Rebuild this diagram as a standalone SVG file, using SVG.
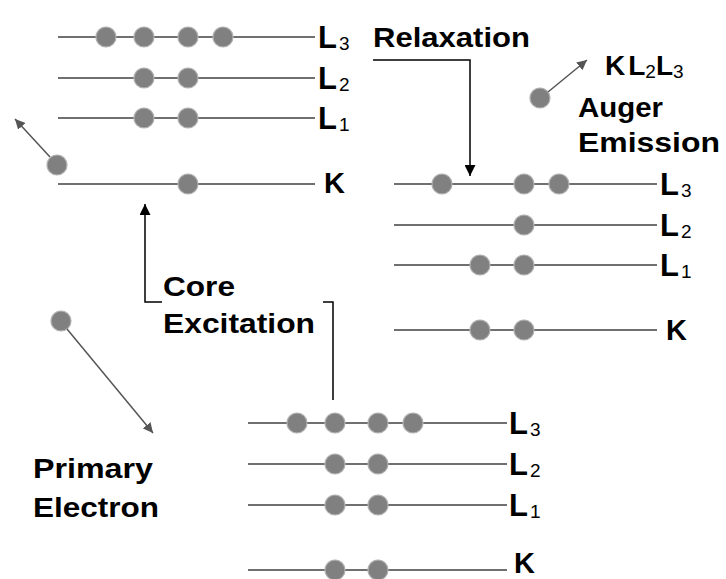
<svg xmlns="http://www.w3.org/2000/svg" width="726" height="579" viewBox="0 0 726 579">
<defs>
<marker id="ah" viewBox="0 0 10 10" refX="10" refY="5" markerWidth="10" markerHeight="10" markerUnits="userSpaceOnUse" orient="auto"><path d="M0,0 L10,5 L0,10 z" fill="#555"/></marker>
<marker id="bh" viewBox="0 0 10 10" refX="10" refY="5" markerWidth="11" markerHeight="11" markerUnits="userSpaceOnUse" orient="auto"><path d="M0,0 L10,5 L0,10 z" fill="#000"/></marker>
</defs>
<style>
.lv{stroke:#404040;stroke-width:1.7;fill:none}
.e{fill:#808080;stroke:#b0b0b0;stroke-width:1.2}
.t{font-family:"Liberation Sans",Arial,sans-serif;font-weight:bold;font-size:28px;fill:#000}
.lb{font-family:"Liberation Sans",Arial,sans-serif;font-weight:bold;font-size:31px;fill:#000}
.kb{font-family:"Liberation Sans",Arial,sans-serif;font-weight:bold;font-size:29px;fill:#000}
.sb{font-family:"Liberation Sans",Arial,sans-serif;font-weight:normal;font-size:19px;fill:#000}
.ar{stroke:#555;stroke-width:1.5;fill:none;marker-end:url(#ah)}
.br{stroke:#000;stroke-width:1.5;fill:none}
</style>
<rect width="726" height="579" fill="#fff"/>

<g id="atom-top-left">
<line class="lv" x1="58" y1="37" x2="315" y2="37"/>
<line class="lv" x1="58" y1="78" x2="315" y2="78"/>
<line class="lv" x1="58" y1="118" x2="315" y2="118"/>
<line class="lv" x1="58" y1="184" x2="315" y2="184"/>
<circle class="e" cx="106" cy="37" r="10"/><circle class="e" cx="144" cy="37" r="10"/><circle class="e" cx="188" cy="37" r="10"/><circle class="e" cx="223" cy="37" r="10"/>
<circle class="e" cx="144" cy="78" r="10"/><circle class="e" cx="188" cy="78" r="10"/>
<circle class="e" cx="144" cy="118" r="10"/><circle class="e" cx="188" cy="118" r="10"/>
<circle class="e" cx="188" cy="184" r="10"/>
<text class="lb" x="318" y="48">L<tspan class="sb" dx="2" dy="2">3</tspan></text>
<text class="lb" x="318" y="89">L<tspan class="sb" dx="2" dy="2">2</tspan></text>
<text class="lb" x="318" y="129">L<tspan class="sb" dx="2" dy="2">1</tspan></text>
<text class="kb" x="324" y="193">K</text>
</g>

<g id="atom-right">
<line class="lv" x1="394" y1="184" x2="657" y2="184"/>
<line class="lv" x1="394" y1="225" x2="657" y2="225"/>
<line class="lv" x1="394" y1="265" x2="657" y2="265"/>
<line class="lv" x1="394" y1="330" x2="657" y2="330"/>
<circle class="e" cx="442" cy="184" r="10"/><circle class="e" cx="524" cy="184" r="10"/><circle class="e" cx="559" cy="184" r="10"/>
<circle class="e" cx="524" cy="225" r="10"/>
<circle class="e" cx="480" cy="265" r="10"/><circle class="e" cx="524" cy="265" r="10"/>
<circle class="e" cx="480" cy="330" r="10"/><circle class="e" cx="524" cy="330" r="10"/>
<text class="lb" x="660" y="195">L<tspan class="sb" dx="2" dy="2">3</tspan></text>
<text class="lb" x="660" y="236">L<tspan class="sb" dx="2" dy="2">2</tspan></text>
<text class="lb" x="660" y="276">L<tspan class="sb" dx="2" dy="2">1</tspan></text>
<text class="kb" x="666" y="340">K</text>
</g>

<g id="atom-bottom">
<line class="lv" x1="248" y1="423" x2="507" y2="423"/>
<line class="lv" x1="248" y1="464" x2="507" y2="464"/>
<line class="lv" x1="248" y1="505" x2="507" y2="505"/>
<line class="lv" x1="248" y1="570" x2="507" y2="570"/>
<circle class="e" cx="297" cy="423" r="10"/><circle class="e" cx="335" cy="423" r="10"/><circle class="e" cx="378" cy="423" r="10"/><circle class="e" cx="413" cy="423" r="10"/>
<circle class="e" cx="335" cy="464" r="10"/><circle class="e" cx="378" cy="464" r="10"/>
<circle class="e" cx="335" cy="505" r="10"/><circle class="e" cx="378" cy="505" r="10"/>
<circle class="e" cx="335" cy="570" r="10"/><circle class="e" cx="378" cy="570" r="10"/>
<text class="lb" x="509" y="434">L<tspan class="sb" dx="2" dy="2">3</tspan></text>
<text class="lb" x="509" y="475">L<tspan class="sb" dx="2" dy="2">2</tspan></text>
<text class="lb" x="509" y="516">L<tspan class="sb" dx="2" dy="2">1</tspan></text>
<text class="kb" x="514" y="573" font-size="26">K</text>
</g>

<g id="ejected-electron">
<circle class="e" cx="57" cy="165" r="10"/>
</g>
<g id="primary-electron">
<circle class="e" cx="61" cy="321" r="10"/>
<text class="t" x="33" y="478" textLength="120" lengthAdjust="spacingAndGlyphs">Primary</text>
<text class="t" x="33" y="517" textLength="126" lengthAdjust="spacingAndGlyphs">Electron</text>
</g>
<g id="auger-electron">
<circle class="e" cx="540" cy="98" r="10"/>
<text class="t" x="605" y="75">K<tspan dx="3">L</tspan><tspan class="sb" dy="3">2</tspan><tspan dy="-3">L</tspan><tspan class="sb" dy="3">3</tspan></text>
<text class="t" x="578" y="117" textLength="85" lengthAdjust="spacingAndGlyphs">Auger</text>
<text class="t" x="578" y="152" textLength="142" lengthAdjust="spacingAndGlyphs">Emission</text>
</g>
<g id="labels">
<text class="t" x="373" y="47" textLength="157" lengthAdjust="spacingAndGlyphs">Relaxation</text>
<text class="t" x="163" y="296" textLength="72" lengthAdjust="spacingAndGlyphs">Core</text>
<text class="t" x="163" y="333" textLength="152" lengthAdjust="spacingAndGlyphs">Excitation</text>
</g>

<g id="connectors">
<line class="ar" x1="50" y1="157" x2="15" y2="119"/>
<line class="ar" x1="67" y1="329" x2="153" y2="433"/>
<line class="ar" x1="548" y1="92" x2="587" y2="60"/>
<path class="br" d="M373,60 H470 V176" marker-end="url(#bh)"/>
<path class="br" d="M162,302 H145 V204" marker-end="url(#bh)"/>
<path class="br" d="M323,302 H333 V400"/>
</g>
</svg>
